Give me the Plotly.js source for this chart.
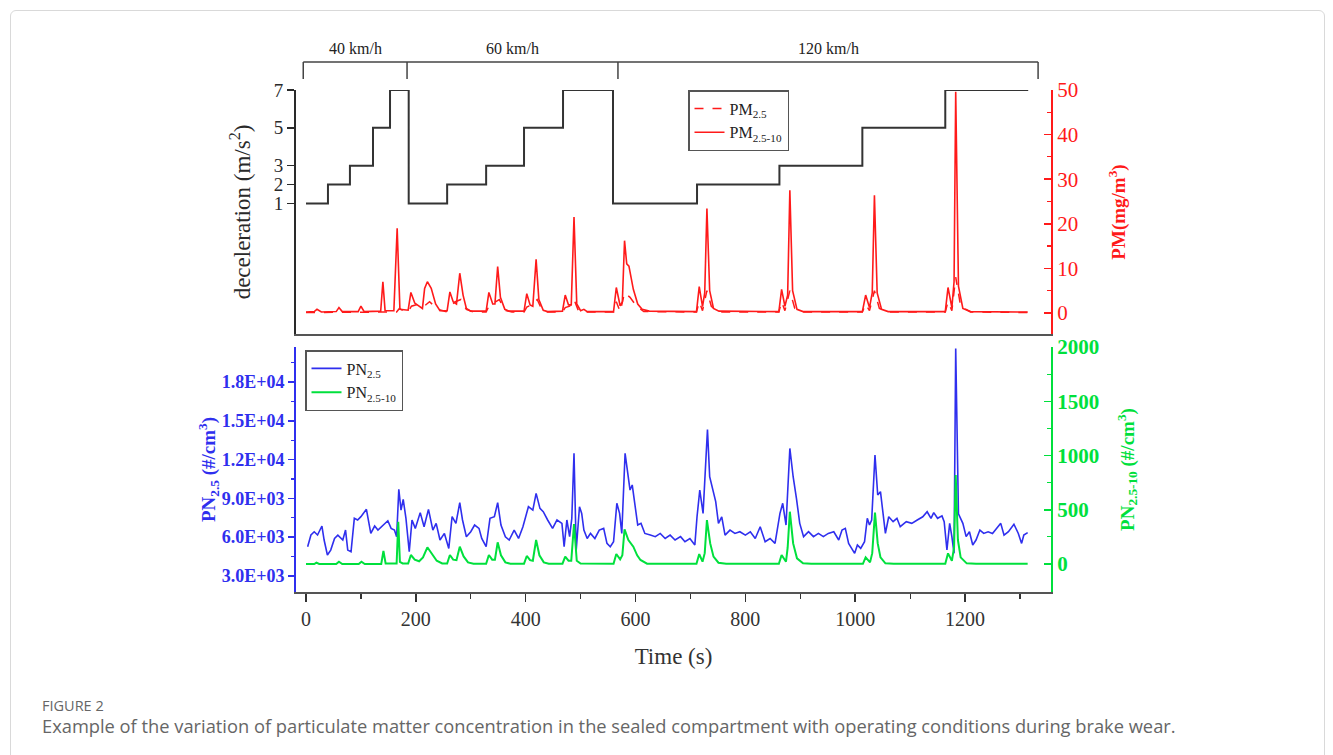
<!DOCTYPE html>
<html>
<head>
<meta charset="utf-8">
<script src="https://cdn.plot.ly/plotly-3.0.1.min.js"></script>
<style>
  html, body { margin: 0; padding: 0; background: #fff; }
  #frame { position: absolute; left: 10px; top: 10px; width: 1315px; height: 780px; border: 1px solid #d9d9d9; border-radius: 6px; box-sizing: border-box; }
  #chart { position: absolute; left: 0; top: 0; width: 1333px; height: 755px; }
</style>
</head>
<body>
<div id="frame"></div>
<div id="chart"></div>
<script>
// ---------- DATA ----------
const speedLabels = ["40 km/h", "60 km/h", "120 km/h"];
const speedBounds = [-5, 184, 568, 1333];

// deceleration step programme (m/s^2)
const decelTime  = [0, 40, 80, 122, 153, 187, 257, 328, 397, 468, 559, 712, 862, 1013, 1164, 1315];
const decelLevel = [1, 2, 3, 5, 7, 1, 2, 3, 5, 7, 1, 2, 3, 5, 7, 7];

// PM2.5-10 (mg/m3), solid red
const pm2510Time = [0,15,20,28,55,60,66,95,100,106,136,140,144,160,166,171,186,191,198,206,212,216,221,228,236,244,
  257,262,268,274,280,286,292,300,328,333,340,344,349,354,362,370,397,402,408,413,419,424,432,440,
  467,472,478,483,488,493,500,506,512,560,565,572,576,580,584,588,596,604,612,625,
  711,716,722,726,730,735,742,752,861,866,872,877,881,886,894,905,
  1013,1019,1026,1031,1035,1040,1048,1060,1164,1169,1176,1180,1183,1188,1196,1210,1314];
const pm2510Value = [0.2,0.3,0.8,0.2,0.3,1.2,0.3,0.3,1.5,0.3,0.4,7.0,0.5,0.5,19.0,0.8,0.6,4.6,2.2,1.5,1.0,5.5,7.0,5.5,2.0,0.5,
  0.5,4.7,2.5,2.0,8.9,4.0,1.0,0.4,0.4,4.6,2.0,2.0,10.4,3.5,0.8,0.4,0.4,4.3,1.8,1.5,12.0,3.0,0.6,0.3,
  0.4,4.0,1.8,1.8,21.5,2.0,0.5,0.8,0.3,0.3,5.7,1.6,2.5,16.2,11.0,10.5,5.3,2.0,0.8,0.4,
  0.3,5.9,1.4,4.5,23.4,5.0,1.0,0.4,0.3,5.3,1.5,4.0,27.5,5.0,0.8,0.3,
  0.3,4.0,1.2,4.5,26.4,4.5,0.8,0.3,0.3,5.7,1.2,7.0,49.6,6.0,1.0,0.3,0.2];

// PM2.5 (mg/m3), dashed red
const pm25Time = [0,165,170,180,186,192,205,215,225,240,255,262,272,282,292,305,328,333,345,352,362,375,397,402,414,421,430,440,
  467,472,480,488,496,510,560,565,572,580,590,602,615,711,716,722,730,738,750,861,866,872,881,890,905,
  1013,1019,1026,1035,1044,1060,1164,1169,1176,1183,1192,1210,1314];
const pm25Value = [0.1,0.2,1.0,0.3,0.3,1.5,2.0,1.5,2.5,0.8,0.3,1.5,2.5,3.0,0.8,0.2,0.2,1.5,2.5,3.0,0.6,0.2,0.2,1.3,2.0,3.0,0.6,0.2,
  0.2,1.2,1.5,3.0,0.5,0.2,0.2,2.5,0.3,4.5,3.5,1.5,0.3,0.2,2.5,0.5,5.0,1.5,0.2,0.2,2.5,0.5,5.0,1.0,0.2,
  0.2,2.0,0.5,5.0,1.0,0.2,0.2,2.5,0.5,8.0,1.5,0.2,0.1];

// PN2.5 (#/cm3), blue
const pn25Time = [3,9,15,21,29,33,39,45,52,58,67,72,76,82,88,94,100,110,118,125,131,141,149,155,161,165,169,173,177,182,
  188,193,199,208,215,223,231,237,244,252,260,266,273,280,285,292,300,307,315,320,328,335,343,349,355,363,370,379,387,395,
  405,413,419,426,432,440,449,457,466,470,475,480,484,488,492,498,502,506,512,518,526,534,542,548,554,560,566,571,575,581,
  586,590,594,600,604,610,617,627,636,645,654,663,672,682,690,699,708,712,717,723,731,735,741,746,751,757,763,772,781,790,
  800,809,818,827,836,845,854,863,868,874,881,887,893,899,906,915,924,933,942,951,961,970,976,982,988,994,999,1004,1010,1017,
  1022,1026,1030,1036,1041,1046,1050,1055,1061,1069,1076,1082,1093,1103,1113,1123,1131,1138,1143,1150,1158,1162,1167,1172,1176,1180,
  1183,1188,1196,1202,1208,1214,1220,1227,1234,1242,1250,1257,1265,1271,1279,1289,1297,1303,1307,1314];
const pn25Value = [5265,6170,6420,6170,6865,5780,4620,5000,5900,6150,5780,6550,5000,4870,7460,7330,7590,8155,6290,6865,6550,6940,7270,6680,6550,6030,9700,8100,8930,7460,
  4870,7330,6680,7900,6810,8155,6550,7070,5780,6290,5130,7590,7070,8670,7330,6030,6420,6940,6680,5900,5260,7460,7590,8670,6940,6030,5780,6550,5900,6810,
  8360,8100,9390,8230,7970,7330,6680,7330,7070,5265,7330,6040,7460,12490,5000,8360,7840,6550,5900,6290,5900,6550,6680,5520,5260,5650,8620,7840,6290,12490,
  10680,9650,10040,8360,6940,7070,6290,6160,6040,6290,5900,6160,5780,6040,5650,5900,5390,7580,9650,7840,14340,10680,9650,8750,7070,7580,6160,6550,6290,6420,
  6160,6420,5900,6810,5650,5900,5520,7840,8620,6940,12870,10680,9010,7070,6040,6420,6040,6290,6040,6290,6420,5780,6550,6680,5520,5130,4750,5390,5130,5650,
  7460,6940,7330,12350,9260,9520,7840,6290,7580,7200,7460,6810,7200,7070,7330,7580,7970,7460,7900,7460,7650,7200,5010,7070,6040,4750,
  20600,7800,7070,6040,6420,5390,5780,6550,6290,6420,6290,6680,7070,6160,6420,7000,6290,5520,6160,6350];

// PN2.5-10 (#/cm3), green
const pn2510Time = [0,15,19,24,55,60,66,96,101,107,137,141,145,165,168,171,176,186,191,198,206,213,221,229,238,248,
  257,262,268,274,280,287,295,305,328,333,339,344,349,355,363,372,397,402,408,413,419,425,433,442,
  467,472,478,483,488,493,500,560,565,572,576,580,587,596,603,609,621,
  711,716,722,726,730,736,742,751,765,861,866,874,877,881,887,894,905,920,
  1014,1019,1027,1031,1036,1041,1046,1055,1070,1164,1169,1176,1180,1183,1187,1192,1203,1220,1314];
const pn2510Value = [0,0,12,0,0,21,0,0,21,0,0,120,5,5,390,20,5,5,83,40,25,60,154,100,30,5,
  5,83,40,35,160,70,15,3,3,83,40,40,200,80,15,3,3,74,35,30,221,80,15,3,
  3,68,30,30,369,30,5,3,92,42,80,320,221,160,80,37,3,
  3,92,21,100,405,190,68,12,2,2,83,21,150,482,190,52,6,2,
  2,62,15,100,473,190,61,6,2,2,98,30,150,820,221,61,6,2,2];

const pnTickVals = [3000, 6000, 9000, 12000, 15000, 18000];
const pnTickText = ["3.0E+03", "6.0E+03", "9.0E+03", "1.2E+04", "1.5E+04", "1.8E+04"];

// ---------- LAYOUT HELPERS ----------
const W = 1333, H = 755;
const px = x => x / W;
const py = y => 1 - y / H;
const SERIF = "Liberation Serif, Times New Roman, serif";
const SANS = "Open Sans, Noto Sans, sans-serif";
const RED = "#ff1a1a", BLUE = "#2f2fee", GREEN = "#00e03c", DARK = "#2a2a2a";
const xDomain = [px(296), px(1051)];
const xRange = [-18.2, 1356.5];
const topDomain = [py(334), py(90)];
const botDomain = [py(592), py(347)];

const traces = [
  { x: decelTime, y: decelLevel, xaxis: "x2", yaxis: "y", mode: "lines",
    line: { shape: "hv", color: "#333333", width: 2 }, showlegend: false, hoverinfo: "skip" },
  { x: pm25Time, y: pm25Value, xaxis: "x2", yaxis: "y2", mode: "lines", name: "PM<sub>2.5</sub>",
    line: { color: RED, width: 1.5, dash: "dash" }, legend: "legend" },
  { x: pm2510Time, y: pm2510Value, xaxis: "x2", yaxis: "y2", mode: "lines", name: "PM<sub>2.5-10</sub>",
    line: { color: RED, width: 1.6 }, legend: "legend" },
  { x: pn25Time, y: pn25Value, xaxis: "x", yaxis: "y3", mode: "lines", name: "PN<sub>2.5</sub>",
    line: { color: BLUE, width: 1.6 }, legend: "legend2" },
  { x: pn2510Time, y: pn2510Value, xaxis: "x", yaxis: "y4", mode: "lines", name: "PN<sub>2.5-10</sub>",
    line: { color: GREEN, width: 2 }, legend: "legend2" }
];

const shapes = [];
const annotations = [];
// speed brackets
shapes.push({ type: "line", xref: "x2", yref: "paper", x0: speedBounds[0], x1: speedBounds[speedBounds.length - 1],
  y0: py(62), y1: py(62), line: { color: "#444", width: 1.5 } });
speedBounds.forEach(b => shapes.push({ type: "line", xref: "x2", yref: "paper", x0: b, x1: b,
  y0: py(62), y1: py(79), line: { color: "#444", width: 1.5 } }));
speedLabels.forEach((lab, i) => annotations.push({ xref: "x2", yref: "paper",
  x: (speedBounds[i] + speedBounds[i + 1]) / 2, y: py(59), yanchor: "bottom", text: lab, showarrow: false,
  font: { family: SERIF, size: 16, color: "#222" } }));
// caption
annotations.push({ xref: "paper", yref: "paper", x: px(40), y: py(705), xanchor: "left", yanchor: "middle",
  text: "FIGURE 2", showarrow: false, font: { family: SANS, size: 14.5, color: "#666" } });
annotations.push({ xref: "paper", yref: "paper", x: px(40), y: py(725), xanchor: "left", yanchor: "middle",
  text: "Example of the variation of particulate matter concentration in the sealed compartment with operating conditions during brake wear.",
  showarrow: false, font: { family: SANS, size: 18.3, color: "#666" } });

const layout = {
  width: W, height: H,
  margin: { l: 0, r: 0, t: 0, b: 0 },
  paper_bgcolor: "rgba(0,0,0,0)", plot_bgcolor: "rgba(0,0,0,0)",
  font: { family: SERIF, color: "#222" },
  showlegend: true,
  xaxis: { domain: xDomain, range: xRange, anchor: "y3", showgrid: false, zeroline: false,
    showline: true, linecolor: "#555", linewidth: 2, ticks: "outside", ticklen: 8, tickwidth: 1.5, tickcolor: "#333",
    tickmode: "linear", tick0: 0, dtick: 200,
    minor: { ticks: "outside", ticklen: 5, tickwidth: 1.2, tickcolor: "#333", tickmode: "linear", tick0: 0, dtick: 100, showgrid: false },
    tickfont: { family: SERIF, size: 20, color: "#333" },
    title: { text: "Time (s)", font: { family: SERIF, size: 23, color: "#333" }, standoff: 19 } },
  xaxis2: { domain: xDomain, range: xRange, anchor: "y", showgrid: false, zeroline: false,
    showline: true, linecolor: "#555", linewidth: 2, ticks: "", showticklabels: false },
  yaxis: { domain: topDomain, range: [-5.9, 7], anchor: "x2", showgrid: false, zeroline: false,
    showline: true, linecolor: DARK, linewidth: 2, ticks: "outside", ticklen: 7, tickwidth: 1.5, tickcolor: DARK,
    tickmode: "array", tickvals: [1, 2, 3, 5, 7],
    tickfont: { family: SERIF, size: 19, color: DARK },
    title: { text: "deceleration (m/s<sup>2</sup>)", font: { family: SERIF, size: 23, color: DARK }, standoff: 17 } },
  yaxis2: { overlaying: "y", side: "right", anchor: "x2", range: [-4.73, 50], showgrid: false, zeroline: false,
    showline: true, linecolor: RED, linewidth: 2, ticks: "inside", ticklen: 7, tickwidth: 1.5, tickcolor: RED,
    tickmode: "linear", tick0: 0, dtick: 10,
    minor: { ticks: "inside", ticklen: 4, tickwidth: 1.2, tickcolor: RED, tickmode: "linear", tick0: 0, dtick: 5, showgrid: false },
    tickfont: { family: SERIF, size: 21, color: RED },
    title: { text: "<b>PM(mg/m<sup>3</sup>)</b>", font: { family: SERIF, size: 19, color: RED }, standoff: 34 } },
  yaxis3: { domain: botDomain, range: [1757, 20720], anchor: "x", showgrid: false, zeroline: false,
    showline: true, linecolor: BLUE, linewidth: 2, ticks: "outside", ticklen: 6, tickwidth: 1.5, tickcolor: BLUE,
    tickmode: "array", tickvals: pnTickVals, ticktext: pnTickText,
    minor: { ticks: "outside", ticklen: 3, tickwidth: 1.2, tickcolor: BLUE, tickmode: "linear", tick0: 0, dtick: 1500, showgrid: false },
    tickfont: { family: SERIF, size: 18, color: BLUE, weight: "bold" },
    title: { text: "<b>PN<sub>2.5</sub> (#/cm<sup>3</sup>)</b>", font: { family: SERIF, size: 19, color: BLUE }, standoff: 0 } },
  yaxis4: { overlaying: "y3", side: "right", anchor: "x", range: [-258, 2000], showgrid: false, zeroline: false,
    showline: true, linecolor: GREEN, linewidth: 2, ticks: "inside", ticklen: 7, tickwidth: 1.5, tickcolor: GREEN,
    tickmode: "linear", tick0: 0, dtick: 500,
    minor: { ticks: "inside", ticklen: 4, tickwidth: 1.2, tickcolor: GREEN, tickmode: "linear", tick0: 0, dtick: 250, showgrid: false },
    tickfont: { family: SERIF, size: 21, color: GREEN, weight: "bold" },
    title: { text: "<b>PN<sub>2.5-10</sub> (#/cm<sup>3</sup>)</b>", font: { family: SERIF, size: 19, color: GREEN }, standoff: 22 } },
  legend: { x: px(688), y: py(90), xanchor: "left", yanchor: "top", bgcolor: "#fff",
    bordercolor: "#555", borderwidth: 1.5, font: { family: SERIF, size: 16, color: "#222" }, tracegroupgap: 0 },
  legend2: { x: px(305), y: py(350), xanchor: "left", yanchor: "top", bgcolor: "#fff",
    bordercolor: "#555", borderwidth: 1.5, font: { family: SERIF, size: 16, color: "#222" }, tracegroupgap: 0 },
  shapes: shapes,
  annotations: annotations
};

Plotly.newPlot("chart", traces, layout, { displayModeBar: false, staticPlot: true });
</script>
</body>
</html>
